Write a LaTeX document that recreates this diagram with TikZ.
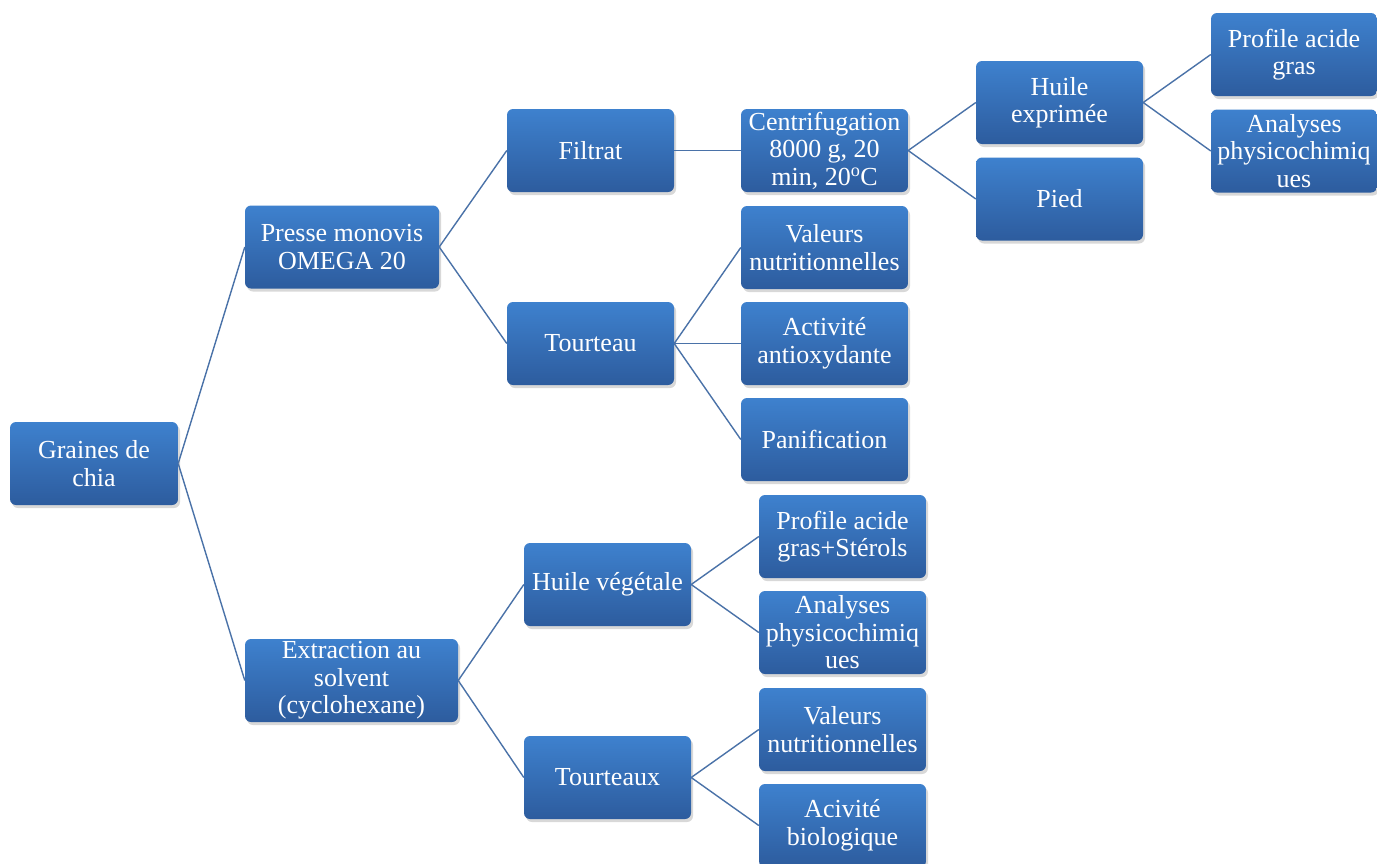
\documentclass[tikz,border=0pt]{standalone}
\usepackage{fontspec}
\setmainfont{Liberation Serif}
\usetikzlibrary{shadows}
\definecolor{boxtop}{RGB}{62,129,206}
\definecolor{boxbot}{RGB}{45,92,158}
\definecolor{linkc}{RGB}{74,114,168}
\tikzset{
  bx/.style={rectangle, rounded corners=6pt, top color=boxtop, bottom color=boxbot,
    draw=none, minimum height=83pt, minimum width=167pt, inner sep=0pt,
    align=center, text=white, font=\fontsize{26}{27.5}\selectfont,
    drop shadow={opacity=0.3, shadow xshift=2pt, shadow yshift=-3pt}},
  lk/.style={draw=linkc, line width=1.4pt}
}
\begin{document}
\begin{tikzpicture}[x=1pt,y=-1pt]
\useasboundingbox[fill=white] (0,0) rectangle (1377,863);
\node[bx, minimum width=168pt] (g) at (94,463.5) {Graines de\\chia};
\node[bx, minimum width=194pt] (p) at (342,247) {Presse monovis\\OMEGA 20};
\node[bx, minimum width=213pt] (e) at (351.5,680.5) {Extraction au\\solvent\\(cyclohexane)};
\node[bx] (f) at (590.5,150.5) {Filtrat};
\node[bx] (t) at (590.5,343.5) {Tourteau};
\node[bx] (c) at (824.5,150.5) {Centrifugation\\8000 g, 20\\min, 20\textsuperscript{o}C};
\node[bx] (v1) at (824.5,247.5) {Valeurs\\nutritionnelles};
\node[bx] (a1) at (824.5,343.5) {Activité\\antioxydante};
\node[bx] (pa) at (824.5,439.5) {Panification};
\node[bx] (h) at (1059.5,102.5) {Huile\\exprimée};
\node[bx] (pi) at (1059.5,199) {Pied};
\node[bx, minimum width=166pt] (pr) at (1294,54.5) {Profile acide\\gras};
\node[bx, minimum width=166pt] (an) at (1294,151) {Analyses\\physicochimiq\\ues};
\node[bx] (hv) at (607.5,584.5) {Huile végétale};
\node[bx] (ts) at (607.5,777.5) {Tourteaux};
\node[bx] (pg) at (842.5,536.5) {Profile acide\\gras+Stérols};
\node[bx] (an2) at (842.5,632.5) {Analyses\\physicochimiq\\ues};
\node[bx] (v2) at (842.5,729.5) {Valeurs\\nutritionnelles};
\node[bx] (ab) at (842.5,825.5) {Acivité\\biologique};
\foreach \a/\b in {g/p,g/e,p/f,p/t,f/c,c/h,c/pi,h/pr,h/an,t/v1,t/a1,t/pa,e/hv,e/ts,hv/pg,hv/an2,ts/v2,ts/ab}
  \draw[lk] (\a.east) -- (\b.west);
\end{tikzpicture}
\end{document}
